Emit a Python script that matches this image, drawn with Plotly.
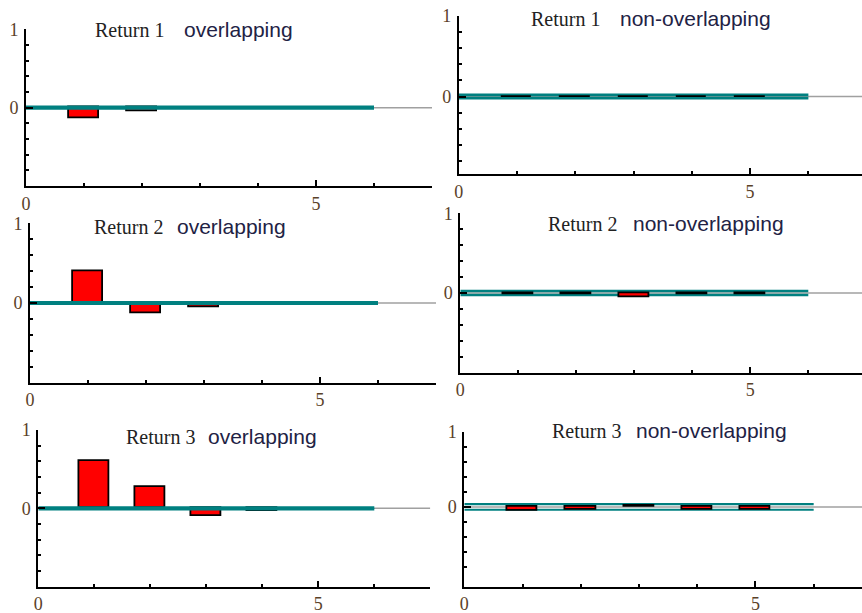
import plotly.graph_objects as go

# ---------------- data ----------------
lags = [1, 2, 3, 4, 5]
r1_overlap = [-0.14, -0.05, None, None, None]
r2_overlap = [0.40, -0.13, -0.05, None, None]
r3_overlap = [0.60, 0.27, -0.10, -0.04, None]
r1_nonoverlap = [-0.01, -0.01, -0.01, -0.01, -0.01]
r2_nonoverlap = [-0.01, -0.01, -0.06, -0.01, -0.01]
r3_nonoverlap = [-0.05, -0.03, 0.01, -0.03, -0.03]

band_overlap = [0.01, 0.01, 0.01]          # +/- band for overlapping panels
band_nonoverlap = [0.02, 0.025, 0.037]      # +/- band for non-overlapping panels
band_x = [0, 6]

series_names = ["Return 1", "Return 2", "Return 3"]
kind_names = ["overlapping", "non-overlapping"]

y_tickvals = [0, 1]
y_ticktext = ["0", "1"]
y_minor = [-0.8, -0.6, -0.4, -0.2, 0.2, 0.4, 0.6, 0.8]
x_tickvals = [0, 5]
x_ticktext = ["0", "5"]
x_minor = [1, 2, 3, 4, 6]

# ---------------- layout geometry (pixels) ----------------
W, H = 862, 613
# (x0, x1, xmax, ytop, ybot, ymin, title_right_serif, title_left_sans, baseline, band_width)
panels = [
    (26.0, 432.0, 7.0, 29.3, 186.0, -1.0, 166, 182, 36, 2.5),      # R1 overlapping
    (458.7, 862.0, 6.92, 16.0, 174.3, -0.966, 602, 618, 25, 2.6),  # R1 non-overlapping
    (30.0, 436.0, 7.0, 223.3, 382.7, -1.0, 165, 175, 233, 2.5),    # R2 overlapping
    (460.3, 862.0, 6.926, 213.3, 372.7, -1.0, 619, 631, 230, 2.5), # R2 non-overlapping
    (38.3, 430.3, 7.0, 430.0, 586.7, -1.0, 197, 206, 443, 2.5),    # R3 overlapping
    (464.3, 862.0, 6.83, 431.7, 586.7, -1.06, 623, 634, 437, 2.2), # R3 non-overlapping
]
values = [r1_overlap, r1_nonoverlap, r2_overlap, r2_nonoverlap, r3_overlap, r3_nonoverlap]

TEAL = "#008080"
GRAY = "#a0a0a0"
LABEL = "#5a4128"
SERIF = "Liberation Serif"
SANS = "Liberation Sans"

fig = go.Figure()
annotations = []
shapes = []

for i, (x0, x1, xmax, ytop, ybot, ymin, tr, tl, base, bw) in enumerate(panels):
    k = i + 1
    xa = "x" if k == 1 else f"x{k}"
    ya = "y" if k == 1 else f"y{k}"
    row, col = i // 2, i % 2
    overlapping = col == 0
    band = band_overlap[row] if overlapping else band_nonoverlap[row]

    bars = go.Bar(x=lags, y=values[i], width=0.52, xaxis=xa, yaxis=ya,
                  marker=dict(color="#ff0000", line=dict(color="black", width=1.8)),
                  showlegend=False)
    fig.add_trace(bars)

    # gray zero line (always beneath everything)
    shapes.append(dict(type="line", xref=xa, yref=ya, x0=0, x1=xmax, y0=0, y1=0,
                       line=dict(color=GRAY, width=1.5), layer="below"))
    if overlapping:
        # teal band drawn over the bars
        for s in (1, -1):
            fig.add_trace(go.Scatter(x=band_x, y=[s * band, s * band], mode="lines",
                                     line=dict(color=TEAL, width=bw),
                                     xaxis=xa, yaxis=ya, hoverinfo="skip",
                                     showlegend=False))
    else:
        # teal band drawn beneath the bars
        for s in (1, -1):
            shapes.append(dict(type="line", xref=xa, yref=ya,
                               x0=band_x[0], x1=band_x[1], y0=s * band, y1=s * band,
                               line=dict(color=TEAL, width=bw), layer="below"))

    xkey = "xaxis" if k == 1 else f"xaxis{k}"
    ykey = "yaxis" if k == 1 else f"yaxis{k}"
    fig.update_layout(**{
        xkey: dict(domain=[x0 / W, x1 / W], range=[0, xmax], anchor=ya,
                   showline=True, linecolor="black", linewidth=1.8,
                   showgrid=False, zeroline=False, automargin=False,
                   tickmode="array", tickvals=x_tickvals, ticktext=x_ticktext,
                   ticks="inside", ticklen=6, tickwidth=1.5, tickcolor="black",
                   minor=dict(tickmode="array", tickvals=x_minor, ticks="inside",
                              ticklen=3, tickwidth=1.5, tickcolor="black"),
                   tickfont=dict(family=SERIF, size=18, color=LABEL),
                   ticklabelstandoff=0, fixedrange=True),
        ykey: dict(domain=[1 - ybot / H, 1 - ytop / H], range=[ymin, 1], anchor=xa,
                   showline=True, linecolor="black", linewidth=1.8,
                   showgrid=False, zeroline=False, automargin=False,
                   tickmode="array", tickvals=y_tickvals, ticktext=y_ticktext,
                   ticks="inside", ticklen=7, tickwidth=1.5, tickcolor="black",
                   minor=dict(tickmode="array", tickvals=y_minor, ticks="inside",
                              ticklen=3, tickwidth=1.5, tickcolor="black"),
                   tickfont=dict(family=SERIF, size=18, color=LABEL),
                   ticklabelstandoff=2, fixedrange=True),
    })

    name = series_names[row]
    kind = kind_names[col]
    annotations.append(dict(text=name, xref="paper", yref="paper",
                            x=tr / W, y=1 - (base - 6.4) / H,
                            xanchor="right", yanchor="middle", showarrow=False,
                            font=dict(family=SERIF, size=20, color="#222222")))
    annotations.append(dict(text=kind, xref="paper", yref="paper",
                            x=tl / W, y=1 - (base - 6.7) / H,
                            xanchor="left", yanchor="middle", showarrow=False,
                            font=dict(family=SANS, size=21, color="#222244")))

fig.update_layout(width=W, height=H,
                  margin=dict(l=0, r=0, t=0, b=0, pad=0, autoexpand=False),
                  paper_bgcolor="white", plot_bgcolor="white",
                  showlegend=False, bargap=0, annotations=annotations, shapes=shapes)

fig.write_html("out.html")
